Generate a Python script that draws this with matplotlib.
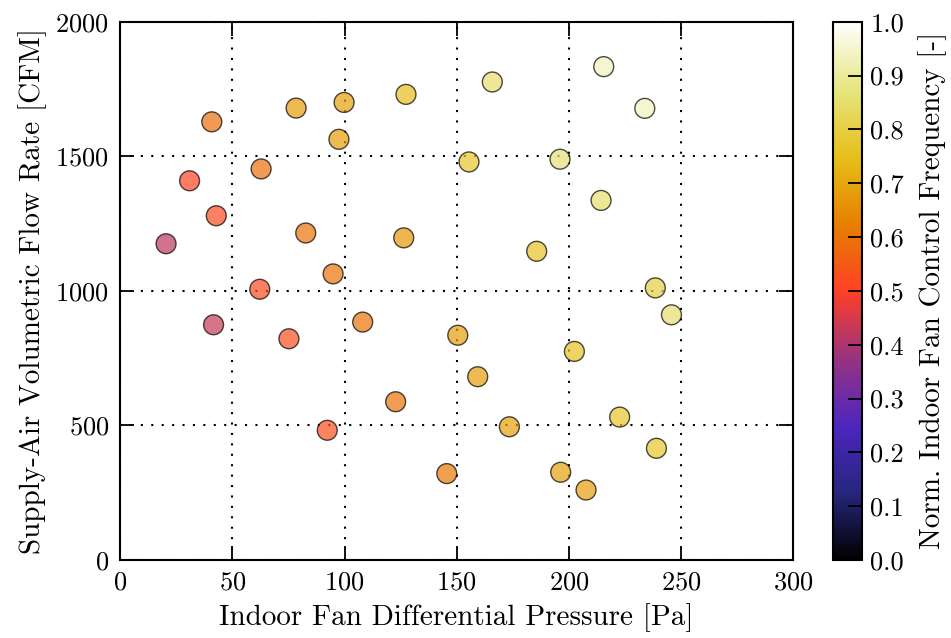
import matplotlib
matplotlib.use("Agg")
import matplotlib.pyplot as plt
import numpy as np

plt.rcParams['font.family'] = ['cmr10', 'DejaVu Serif']
plt.rcParams['mathtext.fontset'] = 'cm'
plt.rcParams['axes.formatter.use_mathtext'] = True

pressure = [20.4, 41.6, 30.9, 42.8, 40.8, 62.2, 62.8, 75.2, 78.4, 82.7, 92.3, 94.9,
            97.5, 99.8, 108.1, 122.8, 126.4, 127.4, 145.6, 150.5, 155.5, 159.4, 165.9,
            173.5, 185.7, 196.1, 196.4, 202.5, 207.7, 214.4, 215.6, 222.7, 233.9, 238.6,
            239.1, 245.8]
flow = [1175, 874, 1409, 1279, 1628, 1006, 1453, 822, 1679, 1215, 482, 1063,
        1563, 1700, 884, 588, 1197, 1730, 321, 835, 1479, 681, 1776,
        495, 1147, 1489, 326, 775, 260, 1336, 1833, 531, 1678, 1011,
        415, 911]
freq = [0.42, 0.43, 0.51, 0.52, 0.59, 0.52, 0.59, 0.53, 0.68, 0.60, 0.53, 0.60,
        0.68, 0.69, 0.60, 0.60, 0.67, 0.75, 0.61, 0.68, 0.77, 0.68, 0.85,
        0.69, 0.76, 0.86, 0.69, 0.76, 0.68, 0.85, 0.93, 0.77, 0.93, 0.80,
        0.77, 0.85]

xticks = [0, 50, 100, 150, 200, 250, 300]
yticks = [0, 500, 1000, 1500, 2000]
cticks = [0.0, 0.1, 0.2, 0.3, 0.4, 0.5, 0.6, 0.7, 0.8, 0.9, 1.0]

W, H = 951, 638
fig = plt.figure(figsize=(W / 100, H / 100), dpi=100)
ax = fig.add_axes([120.3 / W, 78 / H, (793 - 120.3) / W, (560 - 21.7) / H])
cax = fig.add_axes([833 / W, 78 / H, 29 / W, (560 - 21.7) / H])

cmap = plt.get_cmap('CMRmap')
norm = matplotlib.colors.Normalize(vmin=0, vmax=1)
ax.scatter(pressure, flow, c=freq, cmap=cmap, norm=norm, s=205, alpha=0.7,
           edgecolors='black', linewidths=1.0, zorder=3)

ax.set_xlim(0, 300)
ax.set_ylim(0, 2000)
ax.set_xticks(xticks)
ax.set_yticks(yticks)
ax.grid(True, color='black', linestyle=(0, (1, 4)), linewidth=1.5)
ax.set_axisbelow(True)
ax.tick_params(direction='in', length=10, width=1.3, top=True, right=True,
               labelsize=19, pad=8)
for sp in ax.spines.values():
    sp.set_linewidth(1.5)
ax.set_xlabel('Indoor Fan Differential Pressure [Pa]', fontsize=21, labelpad=6)
ax.set_ylabel('Supply-Air Volumetric Flow Rate [CFM]', fontsize=21, labelpad=6)

sm = matplotlib.cm.ScalarMappable(norm=norm, cmap=cmap)
cb = fig.colorbar(sm, cax=cax, ticks=cticks)
cb.ax.set_yticklabels([f'{t:.1f}' for t in cticks])
cb.ax.tick_params(direction='in', length=10, width=1.3, labelsize=19, pad=6)
cb.outline.set_linewidth(1.5)
cb.set_label('Norm. Indoor Fan Control Frequency [-]', fontsize=21, labelpad=10)

fig.savefig('out.png', dpi=100)
